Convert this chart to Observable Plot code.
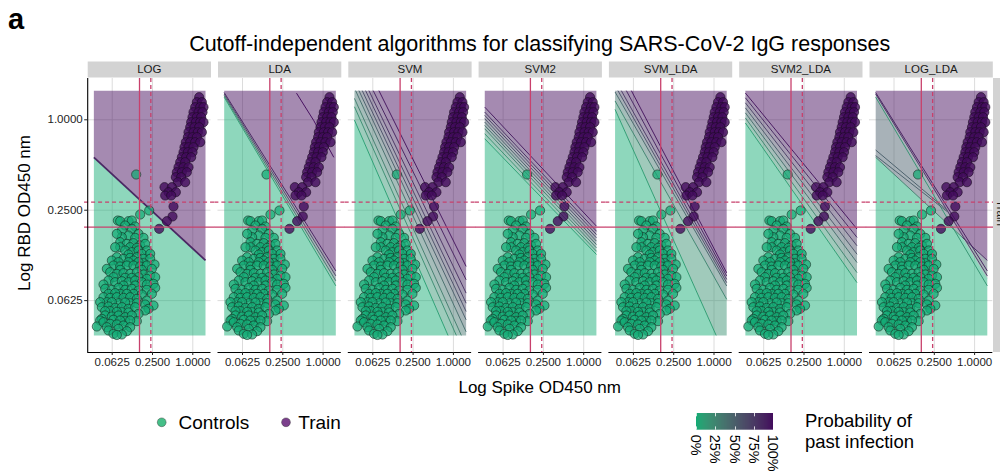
<!DOCTYPE html>
<html>
<head>
<meta charset="utf-8">
<script src="https://cdn.jsdelivr.net/npm/d3@7"></script>
<script src="https://cdn.jsdelivr.net/npm/@observablehq/plot@0.6"></script>
<style>
  body { margin: 0; background: #fff; }
  #wrap { position: relative; width: 1000px; height: 476px; overflow: hidden; background: #fff; }
  #wrap svg { position: absolute; left: 0; top: 0; }
</style>
</head>
<body>
<div id="wrap"></div>
<script>
const FONT = '"Liberation Sans", Arial, Helvetica, sans-serif';

// ---------------- DATA (log2 of OD450 values) ----------------
const panels = ["LOG", "LDA", "SVM", "SVM2", "SVM_LDA", "SVM2_LDA", "LOG_LDA"];
const xTicks = [0.0625, 0.25, 1];
const probTicks = [0, 0.25, 0.5, 0.75, 1];
const groups = ["Controls", "Train"];

// Controls: [log2 Spike, log2 RBD]
const controlsLog2 = [
  [-2.81,-1.21],
  [-2.165,-2.006],[-2.612,-2.095],[-3.720,-2.228],[-3.604,-2.242],[-3.191,-2.242],[-3.025,-2.228],
  [-3.356,-2.338],[-2.860,-2.360],
  [-3.522,-2.449],[-3.025,-2.412],[-2.695,-2.523],[-3.191,-2.559],[-3.522,-2.596],[-3.770,-2.523],
  [-2.860,-2.611],[-2.446,-2.611],
  [-3.604,-2.707],[-3.274,-2.744],[-2.943,-2.729],[-2.612,-2.781],[-2.364,-2.744],
  [-3.604,-2.818],[-3.108,-2.818],[-3.853,-2.818],[-2.777,-2.832],
  [-3.356,-2.891],[-3.025,-2.928],[-2.695,-2.891],[-2.281,-2.891],[-2.529,-2.965],[-3.191,-2.980],[-2.116,-2.965],
  [-3.770,-3.039],[-3.439,-3.076],[-3.108,-3.054],[-2.777,-3.039],[-2.446,-3.076],[-2.116,-3.076],
  [-4.018,-3.113],[-2.943,-3.113],[-2.446,-3.172],
  [-3.687,-3.149],[-3.191,-3.149],[-2.695,-3.149],
  [-1.900,-3.201],[-3.935,-3.223],[-3.604,-3.245],[-3.274,-3.223],[-2.943,-3.223],[-2.612,-3.245],[-2.281,-3.223],
  [-2.033,-3.297],[-4.266,-3.297],[-3.604,-3.319],[-2.529,-3.319],
  [-4.101,-3.371],[-3.770,-3.408],[-3.439,-3.393],[-3.108,-3.408],[-2.777,-3.371],[-2.446,-3.422],[-2.116,-3.444],[-1.867,-3.481],
  [-3.935,-3.481],[-3.356,-3.496],[-2.695,-3.481],[-3.025,-3.496],[-2.281,-3.518],
  [-4.183,-3.555],[-3.853,-3.592],[-3.522,-3.570],[-3.191,-3.592],[-2.860,-3.555],[-2.529,-3.592],[-1.950,-3.629],
  [-4.432,-3.644],[-3.439,-3.666],[-2.860,-3.666],[-2.281,-3.644],
  [-4.349,-3.739],[-4.018,-3.761],[-3.687,-3.717],[-3.356,-3.761],[-3.025,-3.739],[-2.695,-3.776],[-2.281,-3.761],[-1.867,-3.717],
  [-4.183,-3.850],[-3.604,-3.850],[-2.943,-3.850],[-2.033,-3.850],[-3.853,-3.835],[-3.274,-3.850],[-2.529,-3.865],
  [-4.432,-3.924],[-4.101,-3.939],[-3.770,-3.924],[-3.439,-3.939],[-3.108,-3.924],[-2.777,-3.961],[-2.281,-3.998],
  [-4.266,-4.034],[-3.687,-4.057],[-3.108,-4.057],[-1.950,-4.108],
  [-4.597,-4.034],[-4.018,-4.034],[-3.356,-4.042],[-2.777,-4.057],[-2.364,-4.086],
  [-4.514,-4.145],[-4.183,-4.130],[-3.853,-4.160],[-3.522,-4.145],[-3.191,-4.182],[-2.860,-4.145],[-2.198,-4.182],[-2.364,-4.219],
  [-4.101,-4.233],[-3.522,-4.256],[-2.695,-4.293],[-4.349,-4.233],[-3.770,-4.248],[-3.191,-4.263],
  [-4.349,-4.329],[-4.018,-4.352],[-3.687,-4.329],[-3.356,-4.366],[-3.025,-4.329],
  [-4.514,-4.403],[-3.935,-4.425],[-3.356,-4.455],[-2.777,-4.455],
  [-4.597,-4.440],[-3.604,-4.440],[-3.108,-4.440],
  [-4.762,-4.573],[-4.432,-4.477],[-4.101,-4.514],[-3.770,-4.528],[-3.439,-4.551],[-3.108,-4.588],
  [-4.266,-4.588],[-3.687,-4.624],[-3.274,-4.676],
  [-4.183,-4.661],[-3.935,-4.735],[-3.522,-4.750],[-3.770,-4.760]
];

// Train: [log2 Spike, log2 RBD]
const trainLog2 = [
  [0.316,0.501],
  [0.200,0.390],[0.449,0.390],
  [0.118,0.280],[0.366,0.280],[0.531,0.280],
  [0.035,0.169],[0.283,0.169],[0.482,0.169],
  [-0.015,0.058],[0.200,0.058],[0.416,0.058],
  [-0.081,-0.052],[0.151,-0.052],[0.366,-0.052],[0.531,-0.052],
  [-0.130,-0.163],[0.085,-0.163],[0.316,-0.163],
  [-0.213,-0.274],[0.035,-0.274],[0.250,-0.274],[0.449,-0.274],
  [-0.246,-0.384],[-0.015,-0.384],[0.200,-0.384],
  [-0.346,-0.495],[-0.130,-0.495],[0.118,-0.495],[0.366,-0.495],
  [-0.412,-0.606],[-0.213,-0.606],[0.035,-0.606],
  [-0.461,-0.716],[-0.246,-0.716],[-0.015,-0.716],
  [-0.544,-0.827],[-0.329,-0.827],[-0.081,-0.827],
  [-0.627,-0.937],[-0.379,-0.937],
  [-0.709,-1.048],[-0.461,-1.048],[-0.213,-1.048],
  [-0.792,-1.159],[-0.544,-1.159],[-0.296,-1.159],
  [-0.842,-1.269],[-0.577,-1.269],
  [-0.743,-1.380],[-0.379,-1.380],
  [-1.404,-1.490],[-1.040,-1.490],
  [-1.206,-1.601],[-0.842,-1.601],
  [-1.371,-1.675],[-1.073,-1.675],
  [-0.958,-1.918],[-1.007,-2.139],[-1.288,-2.243],[-1.669,-2.412]
];

// cutoffs (log2): solid and dashed
const spikeCutoffs = [-2.645, -2.083];
const rbdCutoffs = [-2.375, -1.822];

// extent of the predicted-probability grid (log2)
const gridSpike = [-4.91, 0.63];
const gridRBD = [-4.77, 0.645];

// probability contour / boundary lines:
// [panel, id, x1, y1, x2, y2, probability, drawn, segmentOnly]
const contourLines = [
  ["LOG","b",-4.91,-0.83,0.63,-3.11,0.9,1,0],

  ["LDA","a",-4.89,0.486,0.62,-3.666,0.1,1,0],
  ["LDA","b",-4.89,0.52,0.62,-3.555,0.35,1,0],
  ["LDA","c",-4.89,0.555,0.62,-3.445,0.65,1,0],
  ["LDA","d",-4.89,0.589,0.62,-3.335,0.9,1,0],
  ["LDA","art1",-1.32,0.59,-0.46,-0.02,1,1,1],
  ["LDA","art2",-0.46,-0.02,0.53,-0.83,1,1,1],

  ["SVM","l1",-4.908,-0.008,-0.309,-4.728,0.08,1,0],
  ["SVM","l2",-4.908,0.287,0.104,-4.728,0.2,1,0],
  ["SVM","l3",-4.908,0.471,0.352,-4.728,0.3,1,0],
  ["SVM","l4",-4.826,0.619,0.518,-4.581,0.4,1,0],
  ["SVM","l5",-4.660,0.619,0.600,-4.396,0.5,1,0],
  ["SVM","l6",-4.495,0.619,0.600,-4.212,0.6,1,0],
  ["SVM","l7",-4.329,0.619,0.600,-4.028,0.7,1,0],
  ["SVM","l8",-4.164,0.619,0.600,-3.806,0.8,1,0],
  ["SVM","l9",-3.949,0.619,0.600,-3.511,0.9,1,0],
  ["SVM","l10",-3.668,0.619,0.600,-3.216,0.97,1,0],

  ["SVM2","l1",-4.923,-0.414,0.586,-2.958,0.08,1,0],
  ["SVM2","l2",-4.923,-0.303,0.586,-2.885,0.18,1,0],
  ["SVM2","l3",-4.923,-0.193,0.586,-2.811,0.3,1,0],
  ["SVM2","l4",-4.923,-0.119,0.586,-2.737,0.4,1,0],
  ["SVM2","l5",-4.923,-0.045,0.586,-2.663,0.5,1,0],
  ["SVM2","l6",-4.923,0.029,0.586,-2.589,0.6,1,0],
  ["SVM2","l7",-4.923,0.103,0.586,-2.516,0.7,1,0],
  ["SVM2","l8",-4.923,0.176,0.586,-2.442,0.82,1,0],
  ["SVM2","l9",-4.923,0.287,0.586,-2.331,0.95,1,0],

  ["SVM_LDA","l1",-4.922,0.242,0.074,-4.736,0.1,1,0],
  ["SVM_LDA","l2",-4.922,0.427,0.571,-3.925,0.25,1,0],
  ["SVM_LDA","l3",-4.856,0.574,0.571,-3.630,0.45,1,0],
  ["SVM_LDA","l4",-4.723,0.611,0.571,-3.556,0.6,1,0],
  ["SVM_LDA","l5",-4.558,0.611,0.571,-3.482,0.75,1,0],
  ["SVM_LDA","l6",-4.310,0.611,0.571,-3.408,0.88,1,0],
  ["SVM_LDA","l7",-4.061,0.611,0.571,-3.335,0.97,1,0],

  ["SVM2_LDA","l1",-4.936,-0.053,0.556,-3.556,0.1,1,0],
  ["SVM2_LDA","l2",-4.936,0.058,0.556,-3.335,0.25,1,0],
  ["SVM2_LDA","l3",-4.936,0.169,0.556,-3.113,0.4,1,0],
  ["SVM2_LDA","l4",-4.936,0.279,0.556,-2.929,0.55,1,0],
  ["SVM2_LDA","l5",-4.936,0.390,0.556,-2.745,0.7,1,0],
  ["SVM2_LDA","l6",-4.936,0.501,0.556,-2.560,0.85,1,0],
  ["SVM2_LDA","l7",-4.903,0.589,0.556,-2.376,0.97,1,0],

  ["LOG_LDA","log",-4.91,-0.83,0.63,-3.11,0.5,0,0],
  ["LOG_LDA","m",-4.89,0.537,0.62,-3.5,0.5,0,0],
  ["LOG_LDA","logA",-4.91,-0.83,-0.607,-2.601,0.3,1,1],
  ["LOG_LDA","logB",-0.607,-2.601,0.63,-3.11,0.85,1,1],
  ["LOG_LDA","a",-4.89,0.486,0.62,-3.666,0.15,1,0],
  ["LOG_LDA","c",-4.89,0.555,0.62,-3.445,0.7,1,0],
  ["LOG_LDA","d",-4.89,0.589,0.62,-3.335,0.9,1,0],
  ["LOG_LDA","g1",-4.918,-0.665,-1.36,-2.0,0.5,1,1],
  ["LOG_LDA","g2",-4.918,-0.79,-1.36,-2.03,0.5,1,1]
];

// ordered boundary lines (low -> high probability) per panel
const fanOrder = {
  LOG: ["b"],
  LDA: ["a","b","c","d"],
  SVM: ["l1","l2","l3","l4","l5","l6","l7","l8","l9","l10"],
  SVM2: ["l1","l2","l3","l4","l5","l6","l7","l8","l9"],
  SVM_LDA: ["l1","l2","l3","l4","l5","l6","l7"],
  SVM2_LDA: ["l1","l2","l3","l4","l5","l6","l7"]
};
// LOG_LDA: average of LOG and LDA classifications
const explicitRegions = [
  {panel: "LOG_LDA", level: 0,   above: [],            below: ["log","m"]},
  {panel: "LOG_LDA", level: 0.5, above: ["log"],       below: ["m"]},
  {panel: "LOG_LDA", level: 0.5, above: ["m"],         below: ["log"]},
  {panel: "LOG_LDA", level: 1,   above: ["log","m"],   below: []}
];

// ---------------- STYLE ----------------
const GREEN = "#12ab74", PURPLE = "#420b5c", RED = "#c8406c";
const X_DOMAIN = [-5.216, 0.903], Y_DOMAIN = [-5.148, 0.914];
const colorScale = {type: "linear", domain: [0, 1], range: [GREEN, PURPLE], interpolate: "lab"};

// ---------------- GEOMETRY ----------------
const lines = contourLines.map(([panel,id,x1,y1,x2,y2,level,draw,seg]) => ({panel,id,x1,y1,x2,y2,level,draw,seg}));
const findLine = (panel, id) => lines.find(l => l.panel === panel && l.id === id);

function clipHalf(poly, l, side) {
  const f = p => (p[1] - (l.y1 + (l.y2 - l.y1) * (p[0] - l.x1) / (l.x2 - l.x1))) * (side === "above" ? 1 : -1);
  const out = [];
  for (let i = 0; i < poly.length; i++) {
    const P = poly[i], Q = poly[(i + 1) % poly.length];
    const fp = f(P), fq = f(Q);
    if (fp >= 0) out.push(P);
    if ((fp >= 0) !== (fq >= 0)) {
      const t = fp / (fp - fq);
      out.push([P[0] + t * (Q[0] - P[0]), P[1] + t * (Q[1] - P[1])]);
    }
  }
  return out;
}
const rectPoly = [[gridSpike[0], gridRBD[0]], [gridSpike[1], gridRBD[0]], [gridSpike[1], gridRBD[1]], [gridSpike[0], gridRBD[1]]];

const regionSpecs = [];
for (const [panel, ids] of Object.entries(fanOrder)) {
  const ls = ids.map(id => findLine(panel, id));
  for (let i = 0; i <= ls.length; i++) {
    const level = i === 0 ? 0 : i === ls.length ? 1 : (ls[i - 1].level + ls[i].level) / 2;
    regionSpecs.push({panel, level, above: i > 0 ? [ids[i - 1]] : [], below: i < ls.length ? [ids[i]] : []});
  }
}
regionSpecs.push(...explicitRegions);

const regionRows = [];
regionSpecs.forEach((r, k) => {
  let poly = rectPoly.slice();
  for (const id of r.above) poly = clipHalf(poly, findLine(r.panel, id), "above");
  for (const id of r.below) poly = clipHalf(poly, findLine(r.panel, id), "below");
  if (poly.length >= 3) poly.forEach(p => regionRows.push({panel: r.panel, rid: "r" + k, level: r.level, x: 2 ** p[0], y: 2 ** p[1]}));
});

function clipSegment(l) {
  const dx = l.x2 - l.x1, dy = l.y2 - l.y1;
  let t0 = l.seg ? 0 : -Infinity, t1 = l.seg ? 1 : Infinity;
  const tests = [[-dx, l.x1 - gridSpike[0]], [dx, gridSpike[1] - l.x1], [-dy, l.y1 - gridRBD[0]], [dy, gridRBD[1] - l.y1]];
  for (const [p, q] of tests) {
    if (p === 0) { if (q < 0) return null; }
    else { const r = q / p; if (p < 0) t0 = Math.max(t0, r); else t1 = Math.min(t1, r); }
  }
  if (t0 > t1) return null;
  return {panel: l.panel, level: l.level, id: l.id,
    x1: 2 ** (l.x1 + t0 * dx), y1: 2 ** (l.y1 + t0 * dy), x2: 2 ** (l.x1 + t1 * dx), y2: 2 ** (l.y1 + t1 * dy)};
}
const contourRows = lines.filter(l => l.draw).map(clipSegment).filter(Boolean);

const controls = controlsLog2.map(([s, r]) => ({group: groups[0], spike: 2 ** s, rbd: 2 ** r}));
const train = trainLog2.map(([s, r]) => ({group: groups[1], spike: 2 ** s, rbd: 2 ** r}));

// horizontal cutoffs drawn slightly past each panel so they bridge the panel gaps
const hRules = rbdCutoffs.map((v, i) => ({rbd: 2 ** v, lo: 2 ** (X_DOMAIN[0] - 0.18), hi: 2 ** (X_DOMAIN[1] + 0.18), dashed: i === 1}));
const vRules = spikeCutoffs.map((v, i) => ({spike: 2 ** v, dashed: i === 1}));

const fmt4 = d => d.toFixed(4);

// ---------------- MAIN PLOT ----------------
const H = 400, MT = 78, MB = 48;
const chart = Plot.plot({
  width: 1000, height: H,
  marginTop: MT, marginBottom: MB, marginLeft: 87.2, marginRight: 7.7,
  style: {fontFamily: FONT, fontSize: "11.5px", background: "transparent", overflow: "visible", color: "#1a1a1a"},
  fx: {domain: panels, paddingInner: 0.0537, paddingOuter: 0, round: false, axis: null, label: null},
  x: {type: "log", base: 2, domain: [2 ** X_DOMAIN[0], 2 ** X_DOMAIN[1]], label: null},
  y: {type: "log", base: 2, domain: [2 ** Y_DOMAIN[0], 2 ** Y_DOMAIN[1]], label: null},
  color: colorScale,
  marks: [
    // strip headers
    Plot.frame({fill: "#d3d3d3", stroke: "none", insetTop: -17, insetBottom: H - MT - MB + 1}),
    Plot.text(panels, {fx: d => d, text: d => d, frameAnchor: "top", lineAnchor: "middle", dy: -9, fontSize: 11.5, fill: "#1a1a1a"}),
    // grid
    Plot.gridX(xTicks, {stroke: "#dcdcdc", strokeOpacity: 1, strokeWidth: 1}),
    Plot.gridY(xTicks, {stroke: "#dcdcdc", strokeOpacity: 1, strokeWidth: 1}),
    // probability surface
    Plot.line(regionRows, {fx: "panel", x: "x", y: "y", z: "rid", fill: "level", fillOpacity: 0.48, stroke: "none", curve: "linear-closed"}),
    // contour lines
    Plot.link(contourRows, {fx: "panel", x1: "x1", y1: "y1", x2: "x2", y2: "y2", stroke: "level", strokeWidth: d => d.panel === "LOG" ? 1.8 : 1, strokeOpacity: 0.95}),
    // samples
    Plot.dot(controls, {x: "spike", y: "rbd", r: 4.6, fill: GREEN, fillOpacity: 0.72, stroke: "#152a20", strokeOpacity: 0.75, strokeWidth: 0.8}),
    Plot.dot(train, {x: "spike", y: "rbd", r: 4.6, fill: PURPLE, fillOpacity: 0.8, stroke: "#1a0a20", strokeOpacity: 0.75, strokeWidth: 0.8}),
    // cutoffs
    Plot.ruleX(vRules.filter(d => !d.dashed), {x: "spike", stroke: RED, strokeWidth: 1.3}),
    Plot.ruleX(vRules.filter(d => d.dashed), {x: "spike", stroke: RED, strokeWidth: 1.3, strokeDasharray: "4,3"}),
    Plot.link(hRules.filter(d => !d.dashed), {x1: "lo", x2: "hi", y1: "rbd", y2: "rbd", stroke: RED, strokeWidth: 1.3}),
    Plot.link(hRules.filter(d => d.dashed), {x1: "lo", x2: "hi", y1: "rbd", y2: "rbd", stroke: RED, strokeWidth: 1.3, strokeDasharray: "4,3"}),
    // axis lines
    Plot.ruleY([Y_DOMAIN[0]], {y: d => 2 ** d, stroke: "#000", strokeWidth: 1.1}),
    Plot.ruleX([panels[0]], {fx: d => d, x: () => 2 ** X_DOMAIN[0], stroke: "#000", strokeWidth: 1.1}),
    Plot.axisX(xTicks, {tickFormat: fmt4, tickSize: 3, tickPadding: 2, fontSize: 11.5, color: "#222", label: null}),
    Plot.axisY(xTicks, {tickFormat: fmt4, tickSize: 3, tickPadding: 2, fontSize: 11.5, color: "#222", label: null})
  ]
});

const wrap = document.getElementById("wrap");
wrap.appendChild(chart);

// ---------------- COLOUR BAR LEGEND ----------------
const leg = Plot.legend({
  color: colorScale,
  width: 77 + 20, height: 16.7 + 50,
  marginTop: 0, marginBottom: 50, marginLeft: 10, marginRight: 10,
  ticks: probTicks, tickSize: 0, tickFormat: d3.format(".0%"), label: null,
  style: {fontFamily: FONT, fontSize: "14.5px", background: "none", overflow: "visible", color: "#000"}
});
leg.style.position = "absolute";
leg.style.left = (695.7 - 10) + "px";
leg.style.top = "413.3px";
leg.style.background = "none";
wrap.appendChild(leg);
d3.select(leg).selectAll(".tick text")
  .attr("transform", "rotate(90)")
  .attr("x", 5).attr("y", 0).attr("dy", "0.35em")
  .attr("text-anchor", "start")
  .attr("font-size", 14.5).attr("font-family", FONT).attr("fill", "#000");
d3.select(leg).selectAll(".tick line")
  .attr("stroke", "#fff").attr("stroke-opacity", 0.8)
  .attr("stroke-dasharray", "3.3,10.1,3.3");

// ---------------- TEXT OVERLAY ----------------
const ov = d3.create("svg").attr("width", 1000).attr("height", 476)
  .style("font-family", FONT).style("pointer-events", "none");
ov.append("text").attr("x", 8).attr("y", 28.5).attr("font-size", 29).attr("font-weight", "bold").text("a");
ov.append("text").attr("x", 539.7).attr("y", 50.5).attr("font-size", 21.5).attr("text-anchor", "middle")
  .text("Cutoff-independent algorithms for classifying SARS-CoV-2 IgG responses");
ov.append("text").attr("x", 539.7).attr("y", 392.5).attr("font-size", 17).attr("text-anchor", "middle")
  .text("Log Spike OD450 nm");
ov.append("text").attr("transform", "translate(29.8,213) rotate(-90)").attr("font-size", 17).attr("text-anchor", "middle")
  .text("Log RBD OD450 nm");
// right facet strip (cut by the page edge, as in the original figure)
ov.append("rect").attr("x", 993).attr("y", 78).attr("width", 20).attr("height", 274).attr("fill", "#d3d3d3");
ov.append("text").attr("transform", "translate(1001,213) rotate(90)").attr("font-size", 11.5)
  .attr("text-anchor", "middle").attr("dy", "0.35em").attr("fill", "#1a1a1a").text(groups[1]);
// group legend
const keys = [{label: groups[0], cx: 161.7, tx: 178.5, fill: "#45bf88"}, {label: groups[1], cx: 286, tx: 298.3, fill: "#7b3f8c"}];
for (const k of keys) {
  ov.append("circle").attr("cx", k.cx).attr("cy", 422.3).attr("r", 4.4).attr("fill", k.fill)
    .attr("stroke", "#333").attr("stroke-opacity", 0.6).attr("stroke-width", 0.7);
  ov.append("text").attr("x", k.tx).attr("y", 429).attr("font-size", 19).text(k.label);
}
ov.append("text").attr("x", 805).attr("y", 426.7).attr("font-size", 18.5).text("Probability of");
ov.append("text").attr("x", 805).attr("y", 448).attr("font-size", 18.5).text("past infection");
wrap.appendChild(ov.node());
</script>
</body>
</html>
